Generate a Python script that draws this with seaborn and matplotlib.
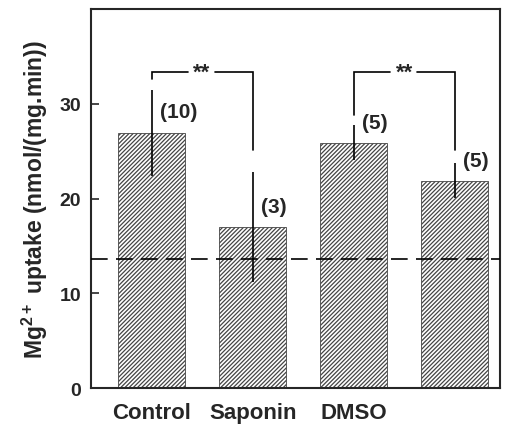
import numpy as np
import pandas as pd
import seaborn as sns
import matplotlib.pyplot as plt

### DATA
groups = ['Control', 'Saponin', 'DMSO', 'DMSO+Saponin']
tick_labels = ['Control', 'Saponin', 'DMSO', '']
uptake = [26.9, 17.0, 25.9, 21.9]
err = [4.5, 5.8, 1.85, 1.8]
n_labels = ['(10)', '(3)', '(5)', '(5)']
n_label_y = [29.2, 19.2, 28.0, 24.0]
baseline = 13.6

# significance brackets: (left bar, right bar, top y, left end y, right end y)
brackets = [
    (0, 1, 33.3, 32.6, 25.1),
    (2, 3, 33.3, 28.8, 25.1),
]
yticks = [0, 10, 20, 30]

### FIGURE
sns.set_style('ticks')
plt.rcParams['font.family'] = ['Liberation Sans', 'DejaVu Sans']
plt.rcParams['font.weight'] = 'bold'
plt.rcParams['mathtext.fontset'] = 'custom'
plt.rcParams['mathtext.rm'] = 'Liberation Sans:bold'
plt.rcParams['mathtext.bf'] = 'Liberation Sans:bold'
plt.rcParams['hatch.linewidth'] = 0.9

df = pd.DataFrame({'group': groups, 'uptake': uptake})

fig = plt.figure(figsize=(5.15, 4.35), dpi=100)
ax = fig.add_axes([0.1767, 0.1057, 0.7943, 0.8713])

sns.barplot(data=df, x='group', y='uptake', order=groups, color='white',
            edgecolor='#444444', linewidth=0.6, width=0.67, hatch='////////',
            errorbar=None, ax=ax)

ax.errorbar(range(len(groups)), uptake, yerr=err, fmt='none',
            ecolor='black', elinewidth=1.2, capsize=0, zorder=5)

ax.axhline(baseline, color='black', lw=1.2, dashes=(10, 5), zorder=6)

for i, (lab, y) in enumerate(zip(n_labels, n_label_y)):
    ax.text(i + 0.08, y, lab, ha='left', va='center', fontsize=15,
            fontweight='bold')

for l, r, top, yl, yr in brackets:
    mid = (l + r) / 2
    ax.plot([l, l, mid - 0.14], [yl, top, top], color='black', lw=1.2,
            solid_joinstyle='miter')
    ax.plot([mid + 0.13, r, r], [top, top, yr], color='black', lw=1.2,
            solid_joinstyle='miter')
    ax.text(mid, top, '**', ha='center', va='center', fontsize=16,
            fontweight='bold')

ax.set_xlim(-0.6, 3.45)
ax.set_ylim(0, 40)
ax.set_yticks(yticks)
ax.set_yticklabels([str(t) for t in yticks], fontsize=14, fontweight='bold')
ax.set_xticks(range(len(groups)))
ax.set_xticklabels(tick_labels, fontsize=16, fontweight='bold')
ax.tick_params(axis='y', direction='in', length=6, width=1.2, pad=7)
ax.tick_params(axis='x', length=0, pad=10)
ax.set_xlabel('')
ax.set_ylabel(r'Mg$^{2+}$ uptake (nmol/(mg.min))', fontsize=16.5,
              fontweight='bold', labelpad=7)
for s in ax.spines.values():
    s.set_visible(True)
    s.set_linewidth(1.5)

plt.savefig('out.png', dpi=100)
plt.close()
